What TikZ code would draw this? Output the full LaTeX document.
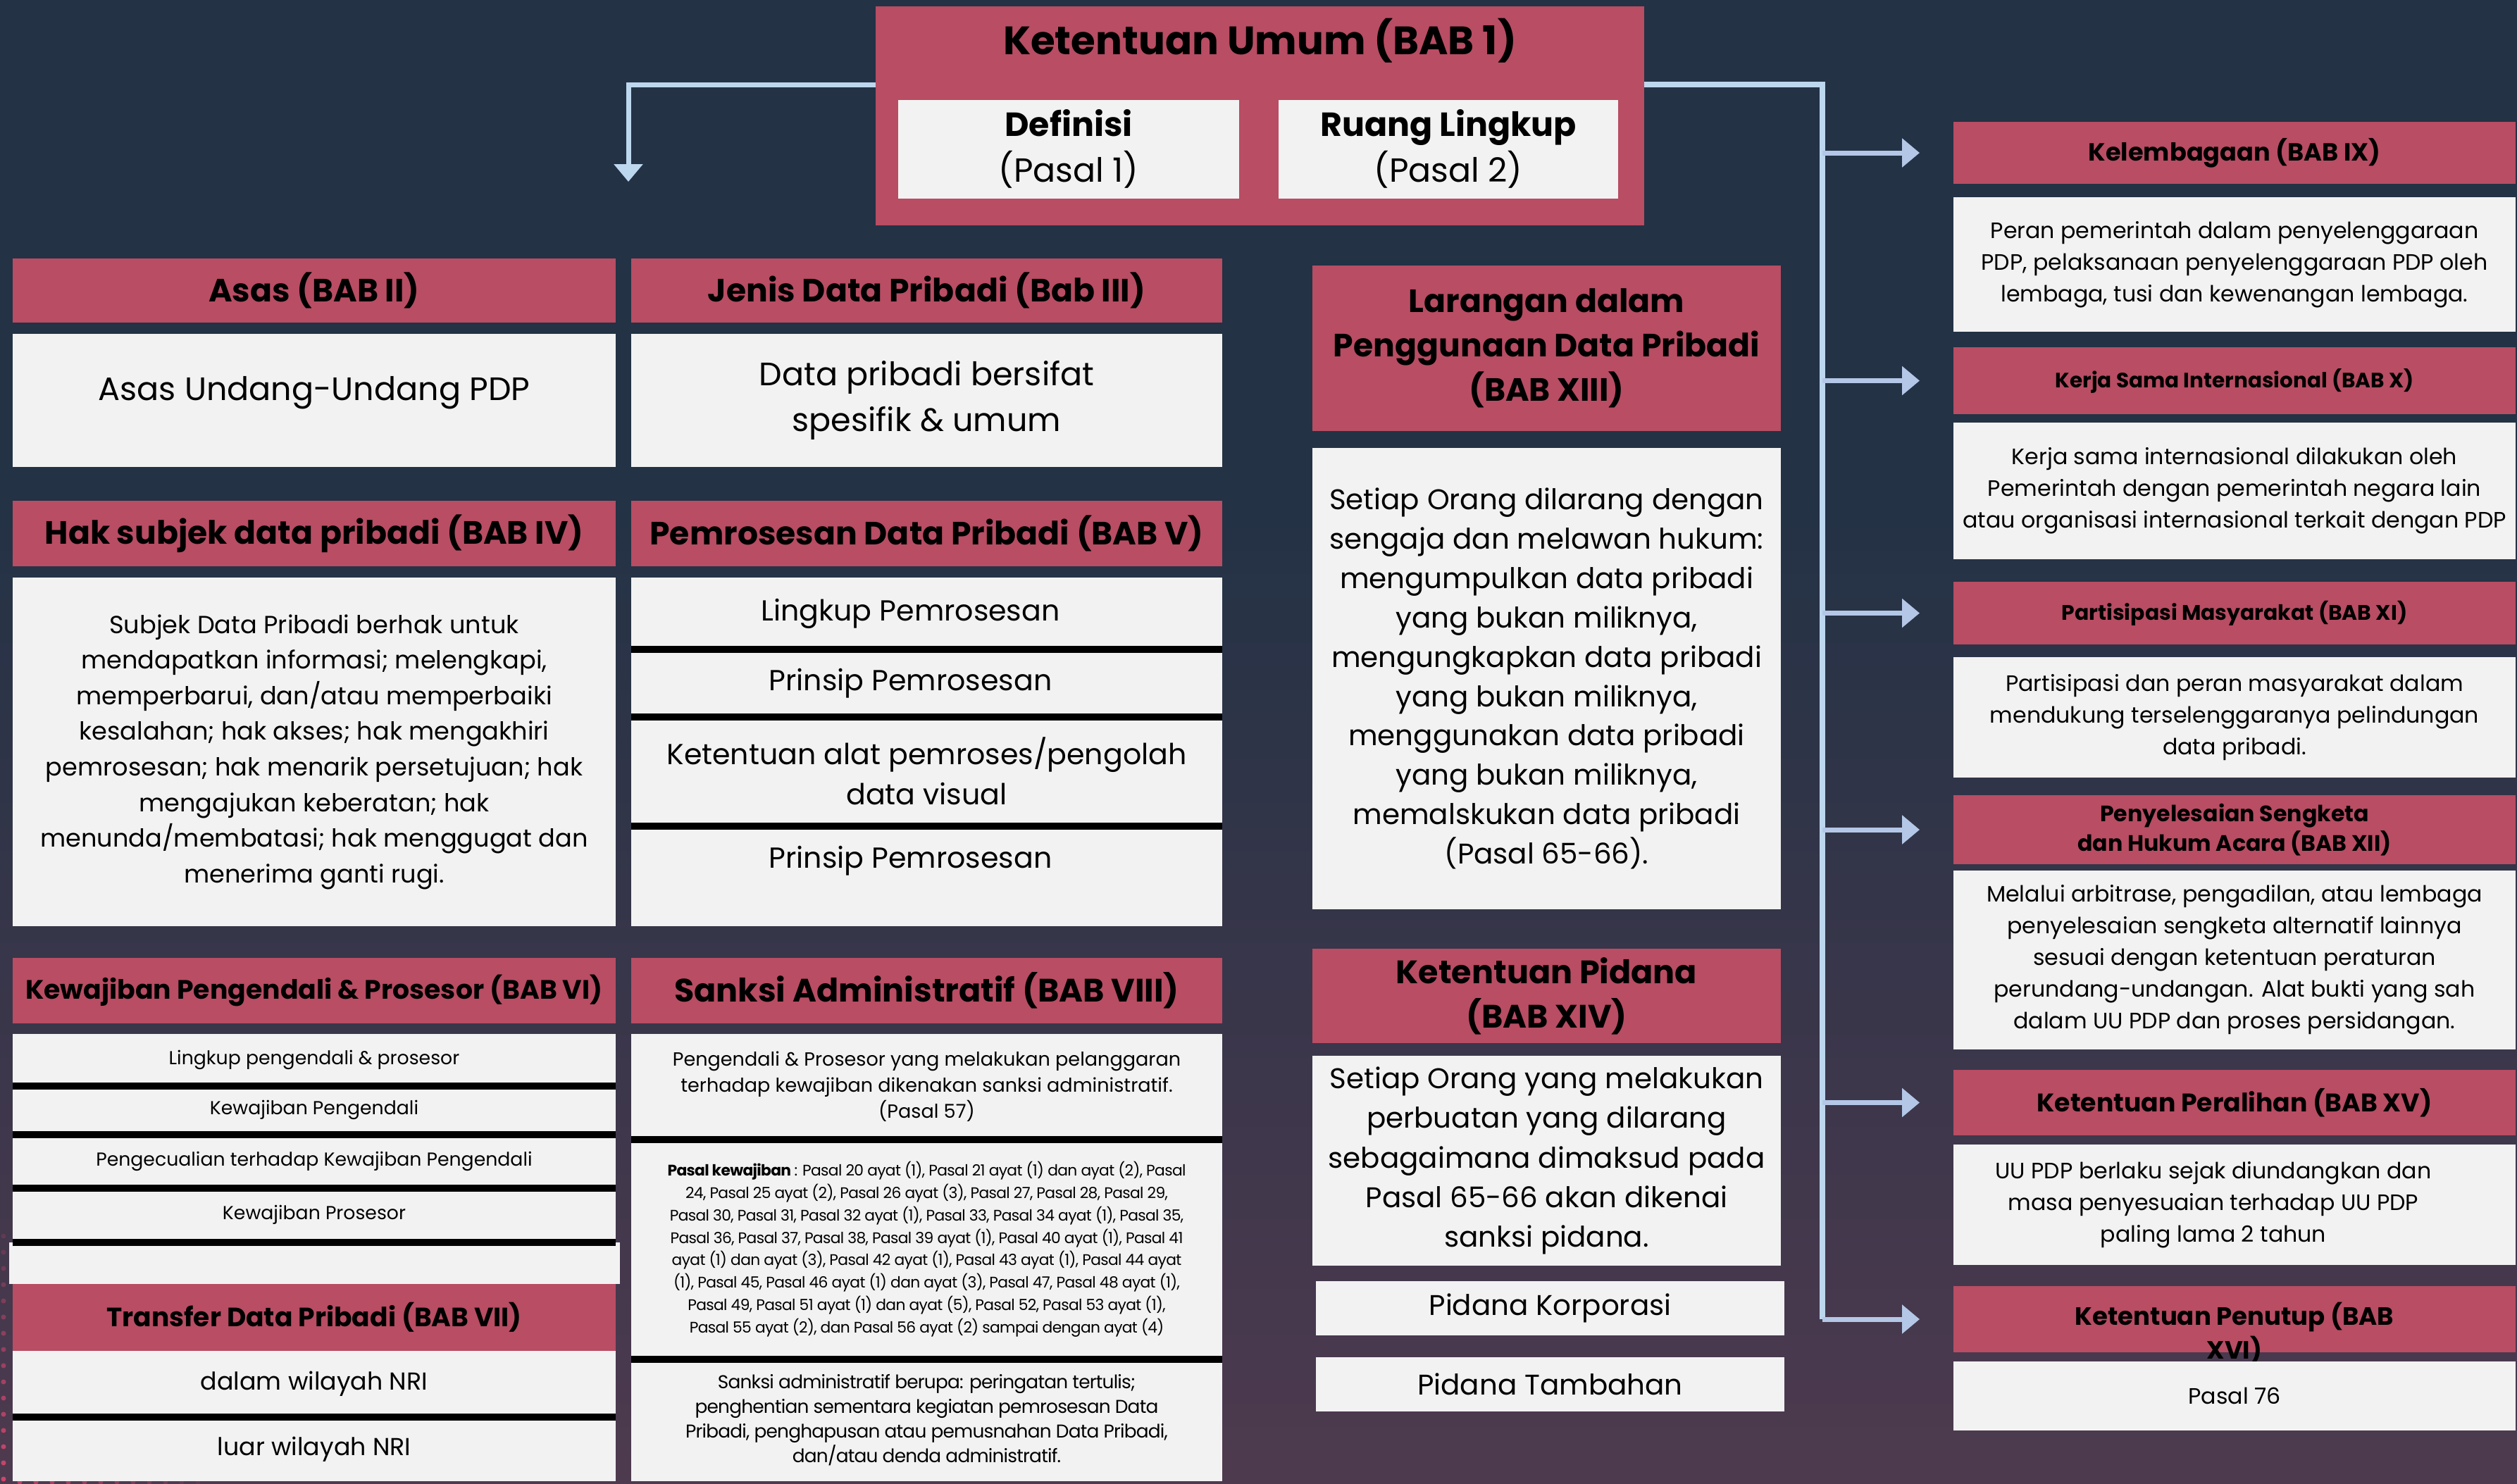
\documentclass[tikz,border=0pt]{standalone}
\usepackage{fontspec}
\setmainfont{Poppins}
\usepackage{tikz}
\usetikzlibrary{
    positioning,
    arrows.meta,
    calc
}
\definecolor{bgtop}{HTML}{233245}
\definecolor{bgbot}{HTML}{4E3A4F}
\definecolor{hdrred}{HTML}{B84D63}
\definecolor{bodygray}{HTML}{F2F2F2}
\definecolor{linkblue}{HTML}{BDD7EE}
\definecolor{tipblue}{HTML}{B4C7E7}
\definecolor{dotpink}{HTML}{D2476E}
\newcommand{\fsz}[2]{\fontsize{#1}{#2}\selectfont}
\newcommand{\tight}{\addfontfeatures{LetterSpace=-3}}
\tikzset{
    sec_hdr/.style={
        rectangle, fill=hdrred, inner sep=2pt, outer sep=0pt,
        align=center, font=\bfseries\fsz{13}{16}
    },
    sec_body/.style={
        rectangle, fill=bodygray, inner sep=2pt, outer sep=0pt,
        align=center
    },
    sep_bar/.style={
        draw=black, line width=1mm
    },
    link_line/.style={
        draw=linkblue, line width=0.8mm
    },
    link_arrow/.style={
        draw=tipblue, line width=0.7mm,
        -{Triangle[width=4mm, length=2.5mm, color=tipblue]}
    }
}

\begin{document}
\begin{tikzpicture}[
    node distance=1.5mm and 2mm,
    col_a/.style={minimum width=8.56cm},
    col_b/.style={minimum width=8.39cm},
    col_c/.style={minimum width=6.65cm},
    col_d/.style={minimum width=7.98cm},
    small_hdr/.style={sec_hdr, font=\bfseries\fsz{10}{12}},
    side_text/.style={font=\fsz{9}{12.8}}
]

    % --- BACKGROUND ---
    \fill[bgtop] (0,0) rectangle (35.73,-21.07);
    \shade[top color=bgtop, bottom color=bgbot] (0,-7) rectangle (35.73,-21.07);
    \useasboundingbox (0,0) rectangle (35.73,-21.07);
    \foreach \k in {0,...,15} {
        \pgfmathsetmacro{\op}{0.2+0.05*\k}
        \fill[dotpink, opacity=\op] (0.05,-17.55-0.23*\k) circle (0.035);
    }
    \foreach \k in {1,...,12} {
        \pgfmathsetmacro{\op}{0.85-0.06*\k}
        \fill[dotpink, opacity=\op] (0.05+0.23*\k,-21.04) circle (0.035);
    }

    % --- TITLE (BAB 1) ---
    \node[sec_hdr, anchor=north, minimum width=10.91cm, minimum height=3.11cm] (umum) at (17.885,-0.09) {};
    \node[anchor=base, font=\bfseries\fsz{16}{19}] (umum_title) at (17.885,-0.78) {Ketentuan Umum (BAB 1)};
    \node[sec_body, minimum width=4.84cm, minimum height=1.40cm, text depth=0.1cm, font=\fsz{13.5}{18.5}] (definisi) at (15.17,-2.12) {\textbf{Definisi}\\(Pasal 1)};
    \node[sec_body, minimum width=4.82cm, minimum height=1.40cm, text depth=0.1cm, font=\fsz{13.5}{18.5}] (ruang) at (20.56,-2.12) {\textbf{Ruang Lingkup}\\(Pasal 2)};

    % --- COLUMN 1 ---
    \node[sec_hdr, col_a, anchor=north, minimum height=0.91cm] (asas_hdr) at (4.46,-3.67) {Asas (BAB II)};
    \node[sec_body, col_a, below=0.16cm of asas_hdr, minimum height=1.89cm, text depth=0.35cm, font=\fsz{13.1}{18}] (asas_body) {Asas Undang-Undang PDP};
    \node[sec_hdr, col_a, below=0.48cm of asas_body, minimum height=0.93cm] (hak_hdr) {Hak subjek data pribadi (BAB IV)};
    \node[sec_body, col_a, below=0.16cm of hak_hdr, minimum height=4.95cm, font=\fsz{10}{14.4}] (hak_body) {Subjek Data Pribadi berhak untuk\\mendapatkan informasi; melengkapi,\\memperbarui, dan/atau memperbaiki\\kesalahan; hak akses; hak mengakhiri\\pemrosesan; hak menarik persetujuan; hak\\mengajukan keberatan; hak\\menunda/membatasi; hak menggugat dan\\menerima ganti rugi.};
    \node[sec_hdr, col_a, below=0.45cm of hak_body, minimum height=0.93cm, font=\bfseries\fsz{10.75}{13}] (kew_hdr) {Kewajiban Pengendali \& Prosesor (BAB VI)};
    \node[sec_body, col_a, below=0.15cm of kew_hdr, minimum height=0.74cm, font=\fsz{7.6}{10}] (kew_r1) {Lingkup pengendali \& prosesor};
    \node[sec_body, col_a, below=0cm of kew_r1, minimum height=0.685cm, font=\fsz{7.6}{10}] (kew_r2) {Kewajiban Pengendali};
    \node[sec_body, col_a, below=0cm of kew_r2, minimum height=0.76cm, font=\fsz{7.6}{10}] (kew_r3) {Pengecualian terhadap Kewajiban Pengendali};
    \node[sec_body, col_a, below=0cm of kew_r3, minimum height=0.77cm, font=\fsz{7.6}{10}] (kew_r4) {Kewajiban Prosesor};
    \node[sec_body, below=0cm of kew_r4, minimum width=8.67cm, minimum height=0.595cm] (kew_blank) {};
    \node[sec_hdr, col_a, below=0cm of kew_blank, minimum height=0.95cm, font=\bfseries\fsz{10.7}{13}] (tr_hdr) {Transfer Data Pribadi (BAB VII)};
    \node[sec_body, col_a, below=0cm of tr_hdr, minimum height=0.94cm, font=\fsz{9.9}{12}] (tr_r1) {dalam wilayah NRI};
    \node[sec_body, col_a, below=0cm of tr_r1, minimum height=0.91cm, font=\fsz{9.9}{12}] (tr_r2) {luar wilayah NRI};

    % --- COLUMN 2 ---
    \node[sec_hdr, col_b, anchor=north, minimum height=0.91cm] (jenis_hdr) at (13.155,-3.67) {Jenis Data Pribadi (Bab III)};
    \node[sec_body, col_b, below=0.16cm of jenis_hdr, minimum height=1.89cm, font=\fsz{13.1}{18.4}] (jenis_body) {Data pribadi bersifat\\spesifik \& umum};
    \node[sec_hdr, col_b, below=0.48cm of jenis_body, minimum height=0.93cm] (pem_hdr) {Pemrosesan Data Pribadi (BAB V)};
    \node[sec_body, col_b, below=0.16cm of pem_hdr, minimum height=1.02cm, font=\fsz{11.7}{16.2}] (pem_r1) {\hspace*{-0.46cm}Lingkup Pemrosesan};
    \node[sec_body, col_b, below=0cm of pem_r1, minimum height=0.955cm, font=\fsz{11.7}{16.2}] (pem_r2) {\hspace*{-0.46cm}Prinsip Pemrosesan};
    \node[sec_body, col_b, below=0cm of pem_r2, minimum height=1.555cm, font=\fsz{11.7}{16.2}] (pem_r3) {Ketentuan alat pemroses/pengolah\\data visual};
    \node[sec_body, col_b, below=0cm of pem_r3, minimum height=1.42cm, text depth=0.55cm, font=\fsz{11.7}{16.2}] (pem_r4) {\hspace*{-0.46cm}Prinsip Pemrosesan};
    \node[sec_hdr, col_b, below=0.45cm of pem_r4, minimum height=0.93cm, font=\bfseries\fsz{13.1}{16}] (sank_hdr) {Sanksi Administratif (BAB VIII)};
    \node[sec_body, col_b, below=0.15cm of sank_hdr, minimum height=1.50cm, font=\fsz{7.7}{10.5}] (sank_b1) {Pengendali \& Prosesor yang melakukan pelanggaran\\terhadap kewajiban dikenakan sanksi administratif.\\(Pasal 57)};
    \node[sec_body, col_b, below=0cm of sank_b1, minimum height=3.115cm, font=\fsz{6.2}{9.1}\tight] (sank_b2) {\textbf{Pasal kewajiban} : Pasal 20 ayat (1), Pasal 21 ayat (1) dan ayat (2), Pasal\\24, Pasal 25 ayat (2), Pasal 26 ayat (3), Pasal 27, Pasal 28, Pasal 29,\\Pasal 30, Pasal 31, Pasal 32 ayat (1), Pasal 33, Pasal 34 ayat (1), Pasal 35,\\Pasal 36, Pasal 37, Pasal 38, Pasal 39 ayat (1), Pasal 40 ayat (1), Pasal 41\\ayat (1) dan ayat (3), Pasal 42 ayat (1), Pasal 43 ayat (1), Pasal 44 ayat\\(1), Pasal 45, Pasal 46 ayat (1) dan ayat (3), Pasal 47, Pasal 48 ayat (1),\\Pasal 49, Pasal 51 ayat (1) dan ayat (5), Pasal 52, Pasal 53 ayat (1),\\Pasal 55 ayat (2), dan Pasal 56 ayat (2) sampai dengan ayat (4)};
    \node[sec_body, col_b, below=0cm of sank_b2, minimum height=1.735cm, font=\fsz{7.5}{10}\tight] (sank_b3) {Sanksi administratif berupa: peringatan tertulis;\\penghentian sementara kegiatan pemrosesan Data\\Pribadi, penghapusan atau pemusnahan Data Pribadi,\\dan/atau denda administratif.};

    % --- COLUMN 3 ---
    \node[sec_hdr, col_c, anchor=north, minimum height=2.35cm, font=\bfseries\fsz{13}{18}] (lar_hdr) at (21.955,-3.77) {Larangan dalam\\Penggunaan Data Pribadi\\(BAB XIII)};
    \node[sec_body, col_c, below=0.24cm of lar_hdr, minimum height=6.55cm, font=\fsz{11.5}{15.9}] (lar_body) {Setiap Orang dilarang dengan\\sengaja dan melawan hukum:\\mengumpulkan data pribadi\\yang bukan miliknya,\\mengungkapkan data pribadi\\yang bukan miliknya,\\menggunakan data pribadi\\yang bukan miliknya,\\memalskukan data pribadi\\(Pasal 65-66).};
    \node[sec_hdr, col_c, below=0.56cm of lar_body, minimum height=1.34cm, font=\bfseries\fsz{13.1}{18}] (pid_hdr) {Ketentuan Pidana\\(BAB XIV)};
    \node[sec_body, col_c, below=0.18cm of pid_hdr, minimum height=2.98cm, font=\fsz{11.5}{16}] (pid_body) {Setiap Orang yang melakukan\\perbuatan yang dilarang\\sebagaimana dimaksud pada\\Pasal 65-66 akan dikenai\\sanksi pidana.};
    \node[sec_body, col_c, below=0.22cm of pid_body, xshift=0.05cm, minimum height=0.77cm, font=\fsz{11.5}{14}] (pid_korp) {Pidana Korporasi};
    \node[sec_body, col_c, below=0.31cm of pid_korp, minimum height=0.77cm, font=\fsz{11.5}{14}] (pid_tamb) {Pidana Tambahan};

    % --- COLUMN 4 ---
    \node[small_hdr, col_d, anchor=north, minimum height=0.88cm] (kel_hdr) at (31.72,-1.73) {Kelembagaan (BAB IX)};
    \node[sec_body, col_d, side_text, below=0.19cm of kel_hdr, minimum height=1.91cm] (kel_body) {Peran pemerintah dalam penyelenggaraan\\PDP, pelaksanaan penyelenggaraan PDP oleh\\lembaga, tusi dan kewenangan lembaga.};
    \node[small_hdr, col_d, below=0.22cm of kel_body, minimum height=0.95cm, font=\bfseries\fsz{8.4}{11}] (ks_hdr) {Kerja Sama Internasional (BAB X)};
    \node[sec_body, col_d, side_text, below=0.12cm of ks_hdr, minimum height=1.94cm] (ks_body) {Kerja sama internasional dilakukan oleh\\Pemerintah dengan pemerintah negara lain\\atau organisasi internasional terkait dengan PDP};
    \node[small_hdr, col_d, below=0.32cm of ks_body, minimum height=0.89cm, font=\bfseries\fsz{8.5}{11}] (par_hdr) {Partisipasi Masyarakat (BAB XI)};
    \node[sec_body, col_d, side_text, below=0.18cm of par_hdr, minimum height=1.71cm] (par_body) {Partisipasi dan peran masyarakat dalam\\mendukung terselenggaranya pelindungan\\data pribadi.};
    \node[small_hdr, col_d, below=0.25cm of par_body, minimum height=0.98cm, font=\bfseries\fsz{9}{12}] (pen_hdr) {Penyelesaian Sengketa\\dan Hukum Acara (BAB XII)};
    \node[sec_body, col_d, side_text, below=0.09cm of pen_hdr, minimum height=2.54cm] (pen_body) {Melalui arbitrase, pengadilan, atau lembaga\\penyelesaian sengketa alternatif lainnya\\sesuai dengan ketentuan peraturan\\perundang-undangan. Alat bukti yang sah\\dalam UU PDP dan proses persidangan.};
    \node[small_hdr, col_d, below=0.29cm of pen_body, minimum height=0.93cm, font=\bfseries\fsz{10.3}{14}] (per_hdr) {Ketentuan Peralihan (BAB XV)};
    \node[sec_body, col_d, side_text, below=0.13cm of per_hdr, minimum height=1.71cm] (per_body) {\hspace*{-0.6cm}UU PDP berlaku sejak diundangkan dan\\\hspace*{-0.6cm}masa penyesuaian terhadap UU PDP\\\hspace*{-0.6cm}paling lama 2 tahun};
    \node[small_hdr, col_d, below=0.30cm of per_body, minimum height=0.94cm] (tut_hdr) {};
    \node[align=center, font=\bfseries\fsz{10.1}{13.6}] (tut_title) at ([yshift=-0.2cm]tut_hdr.center) {Ketentuan Penutup (BAB\\XVI)};
    \node[sec_body, col_d, side_text, below=0.13cm of tut_hdr, minimum height=0.98cm] (tut_body) {Pasal 76};

    % --- SEPARATOR BARS ---
    \foreach \r in {kew_r1, kew_r2, kew_r3, kew_r4, tr_r1, pem_r1, pem_r2, pem_r3, sank_b1, sank_b2}
        \draw[sep_bar] (\r.south west) -- (\r.south east);

    % --- CONNECTORS ---
    \coordinate (trunk_top) at (25.87,-1.20);
    \coordinate (left_tip) at (8.92,-2.58);
    \draw[link_line] (umum.east |- trunk_top) -- (trunk_top) -- (trunk_top |- tut_hdr.west);
    \draw[link_arrow, draw=linkblue, -{Triangle[width=4mm, length=2.5mm, color=linkblue]}] (umum.west |- trunk_top) -| (left_tip);
    \foreach \h in {kel_hdr, ks_hdr, par_hdr, pen_hdr, per_hdr, tut_hdr}
        \draw[link_arrow] (trunk_top |- \h.west) -- ([xshift=-4.8mm]\h.west);

\end{tikzpicture}
\end{document}
